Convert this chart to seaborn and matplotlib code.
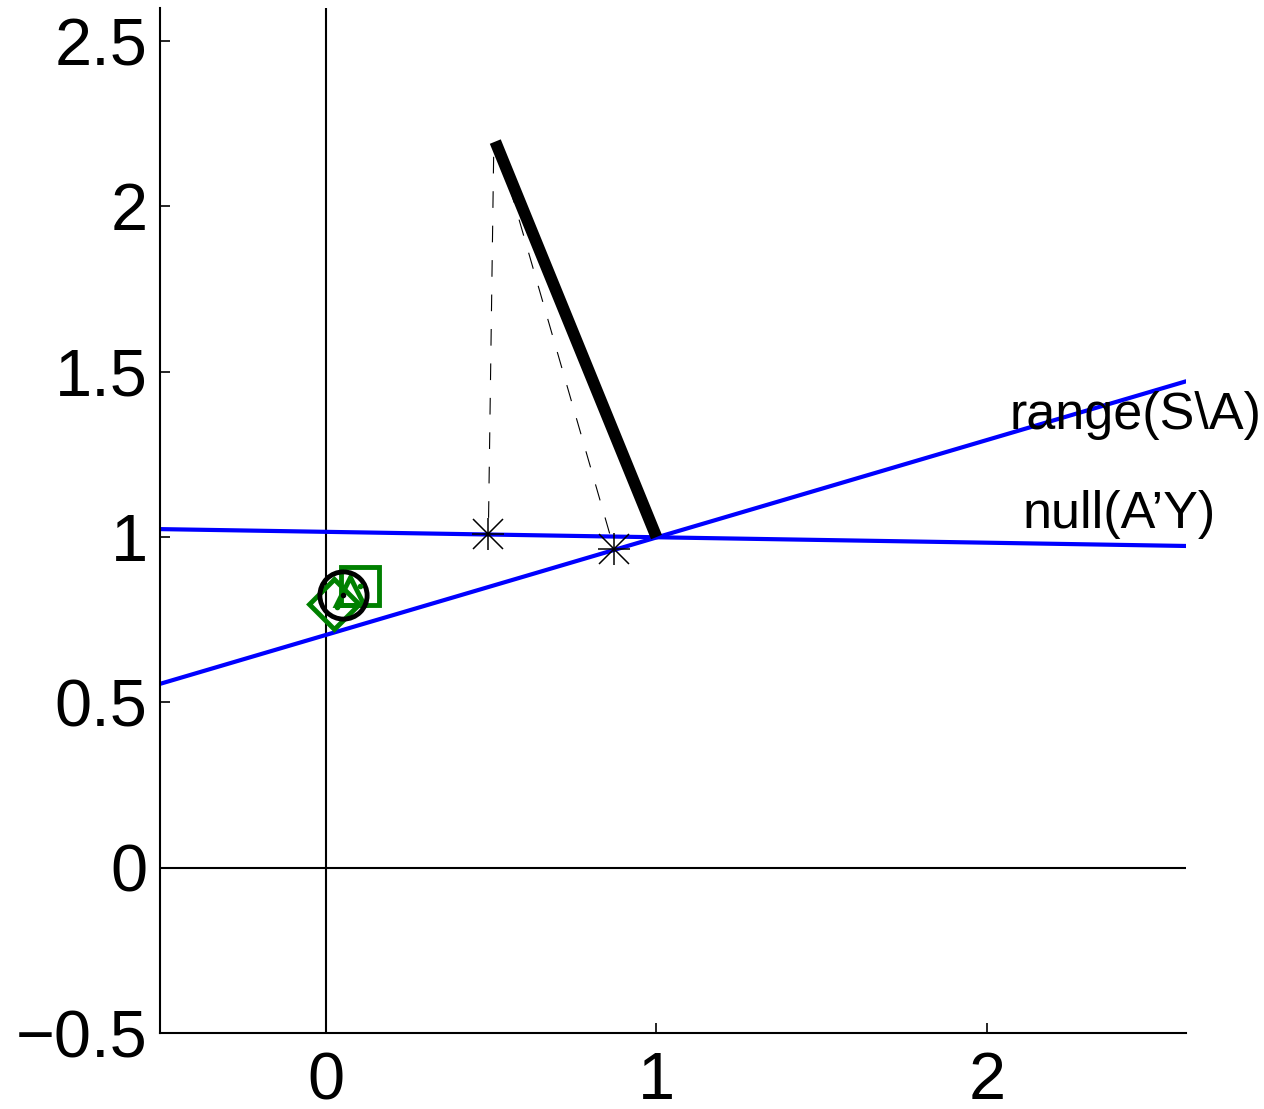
import numpy as np
import pandas as pd
import matplotlib
matplotlib.use('Agg')
import matplotlib.pyplot as plt
import seaborn as sns

# ---- data ----
line_x = [-0.5, 2.6]
range_y = [0.556, 1.471]      # range(S\A)
null_y = [1.024, 0.973]       # null(A'Y)

thick_x = [0.513, 1.0]
thick_y = [2.196, 1.0]

dash1_x = [0.508, 0.492]
dash1_y = [2.15, 1.009]
dash2_x = [0.556, 0.872]
dash2_y = [2.06, 0.964]

star_x = [0.492, 0.872]
star_y = [1.009, 0.964]

circle_xy = (0.054, 0.825)
square_xy = (0.103, 0.852)
diamond_xy = (0.027, 0.798)
triangle_xy = (0.075, 0.837)

xticks = [0, 1, 2]
yticks = [-0.5, 0, 0.5, 1, 1.5, 2, 2.5]

labels = ['range(S\\A)', 'null(A\u2019Y)']
label_x = [2.066, 2.106]
label_y = [1.326, 1.027]

# ---- style ----
sns.set_style('ticks')
plt.rcParams['font.family'] = ['Liberation Sans', 'DejaVu Sans']
plt.rcParams['xtick.direction'] = 'in'
plt.rcParams['ytick.direction'] = 'in'
plt.rcParams['text.color'] = 'black'
plt.rcParams['xtick.labelcolor'] = 'black'
plt.rcParams['ytick.labelcolor'] = 'black'

fig = plt.figure(figsize=(12.64, 11.09), dpi=100)
ax = fig.add_axes([0.1266, 0.0685, 0.9383 - 0.1266, 0.9928 - 0.0685])

blue = '#0000ff'
green = '#008000'

# axis lines through the origin
ax.axvline(0, color='black', lw=1.5, zorder=1)
ax.axhline(0, color='black', lw=1.5, zorder=1)

lines = pd.DataFrame({'x': line_x + line_x,
                      'y': range_y + null_y,
                      'which': ['range'] * 2 + ['null'] * 2})
sns.lineplot(data=lines, x='x', y='y', units='which', estimator=None,
             color=blue, lw=3, ax=ax, zorder=2, sort=False)

sns.lineplot(x=dash1_x, y=dash1_y, color='black', lw=0.8, ax=ax,
             linestyle=(0, (15, 16)), sort=False, zorder=3)
sns.lineplot(x=dash2_x, y=dash2_y, color='black', lw=0.8, ax=ax,
             linestyle=(0, (15, 16)), sort=False, zorder=3)

sns.lineplot(x=thick_x, y=thick_y, color='black', lw=8.5, ax=ax,
             solid_capstyle='butt', sort=False, zorder=4)

# matlab-style '*' = plus + cross
ax.plot(star_x, star_y, linestyle='none', marker='x', ms=22,
        mec='black', mew=1.1, zorder=5)
ax.plot(star_x, star_y, linestyle='none', marker='+', ms=23,
        mec='black', mew=1.1, zorder=5)

ax.plot(*diamond_xy, marker='D', ms=25, mfc='none', mec=green, mew=3.5, zorder=5)
ax.plot(*square_xy, marker='s', ms=27, mfc='none', mec=green, mew=3.5, zorder=5)
ax.plot(*triangle_xy, marker='^', ms=20, mfc='none', mec=green, mew=3.5, zorder=5)
ax.plot(*circle_xy, marker='o', ms=34, mfc='none', mec='black', mew=3.5, zorder=6)
# centre dots
ax.plot(diamond_xy[0] + 0.007, diamond_xy[1] - 0.01, marker='.', ms=6, color=green, zorder=6)
ax.plot(square_xy[0], square_xy[1], marker='.', ms=6, color=green, zorder=6)
ax.plot(*circle_xy, marker='.', ms=6, color='black', zorder=7)

for t, tx, ty in zip(labels, label_x, label_y):
    ax.text(tx, ty, t, fontsize=37.5, ha='left', va='baseline', color='black', zorder=8)

ax.set_xlim(-0.5, 2.6)
ax.set_ylim(-0.5, 2.6)
ax.set_xticks(xticks)
ax.set_yticks(yticks)
ax.set_xticklabels([str(v) for v in xticks])
ax.set_yticklabels(['\u22120.5', '0', '0.5', '1', '1.5', '2', '2.5'])
ax.tick_params(axis='both', labelsize=48, length=7, width=1.2, color='black',
               labelcolor='black')
ax.tick_params(axis='x', pad=13)
ax.tick_params(axis='y', pad=9)
ax.set_xlabel('')
ax.set_ylabel('')
for s in ['top', 'right']:
    ax.spines[s].set_visible(False)
for s in ['left', 'bottom']:
    ax.spines[s].set_linewidth(1.5)
    ax.spines[s].set_color('black')

fig.savefig('out.png', dpi=100)
